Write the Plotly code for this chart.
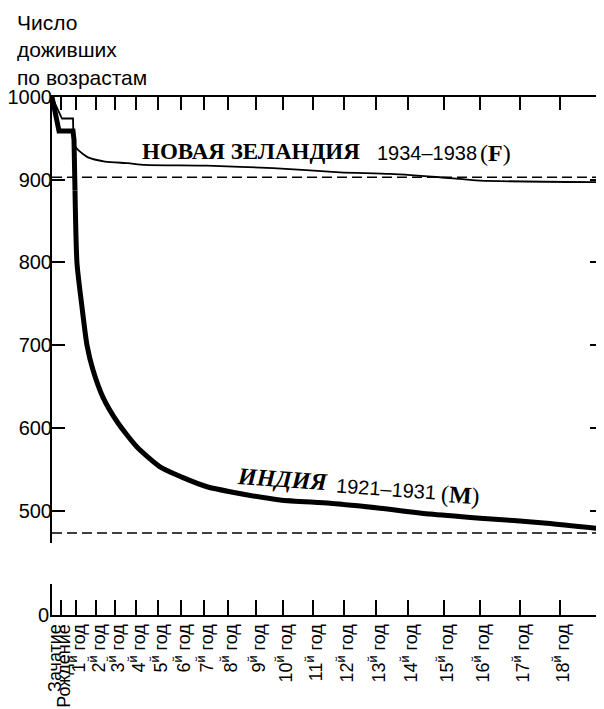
"""Survival curves: New Zealand 1934-1938 (F) vs India 1921-1931 (M)."""

import plotly.graph_objects as go

# horizontal scale of the original drawing (axis units, conception = 0)
tick_pos = [0, 9, 24, 44, 63, 84, 106, 129, 152, 176, 204, 231, 261, 292, 324, 356, 392, 428, 468, 508]
tick_labels = ["Зачатие", "Рождение"] + [f"{n}<sup>й</sup> год" for n in range(1, 19)]
X_MAX = 551

y_ticks = [500, 600, 700, 800, 900, 1000]

# Новая Зеландия 1934-1938 (F), thin line
nz_x = [0, 10, 21, 21.5, 22.5, 26, 36, 53, 76, 93, 155, 221, 288, 338, 388, 428, 551]
nz_y = [1000, 974, 974, 948, 942, 936, 927, 922, 920, 918, 917, 914, 909, 907, 903, 899, 897]

# Индия 1921-1931 (M), thick line
india_x = [0, 7, 21, 22, 23, 25, 30, 35, 41, 51, 66, 85, 108, 131, 155, 178, 228, 278, 328, 378, 428, 495, 551]
india_y = [1000, 959, 959, 948, 887, 799, 746, 700, 670, 637, 606, 577, 553, 540, 529, 523, 513, 509, 503, 496, 491, 485, 478]

# dashed asymptotes
nz_level = 903
india_level = 473

SANS = "Liberation Sans, Arial, sans-serif"
SERIF = "Liberation Serif, DejaVu Serif, serif"


def add_curve(x, y, width, split):
    # stepped start drawn straight, the smooth decline as a spline
    fig.add_trace(go.Scatter(x=x[:split + 1], y=y[:split + 1], mode="lines",
                             xaxis="x2", yaxis="y2", cliponaxis=False,
                             line=dict(color="black", width=width)))
    fig.add_trace(go.Scatter(x=x[split:], y=y[split:], mode="lines",
                             xaxis="x2", yaxis="y2", cliponaxis=False,
                             line=dict(color="black", width=width, shape="spline",
                                       smoothing=0.6)))


fig = go.Figure()
add_curve(nz_x, nz_y, 1.8, 3)
add_curve(india_x, india_y, 5, 4)
# keeps the lower (broken-axis) panel drawn
fig.add_trace(go.Scatter(x=[], y=[], xaxis="x", yaxis="y", hoverinfo="skip"))

for level in (nz_level, india_level):
    fig.add_shape(type="line", xref="x2 domain", yref="y2", x0=0, x1=1, y0=level, y1=level,
                  line=dict(color="black", width=1.5, dash="10px,5px"))

axis_common = dict(showgrid=False, zeroline=False, showline=True, linecolor="black",
                   linewidth=2, tickcolor="black", automargin=False)

fig.update_layout(
    width=596, height=701,
    margin=dict(l=44, r=1, t=89, b=94),
    paper_bgcolor="white", plot_bgcolor="white",
    showlegend=False,
    font=dict(family=SANS, color="black"),
    xaxis=dict(domain=[0, 1], anchor="y", range=[0, X_MAX], tickmode="array",
               tickvals=tick_pos, ticktext=tick_labels, tickangle=-90,
               ticks="inside", ticklen=15, tickwidth=1.5,
               tickfont=dict(size=18, family=SANS), ticklabelshift=3,
               ticklabelstandoff=0, **axis_common),
    yaxis=dict(domain=[0, 0.06], anchor="x", range=[0, 40], tickmode="array",
               tickvals=[0], ticktext=["0"], ticks="", mirror=True,
               tickfont=dict(size=20), ticklabelstandoff=-3, **axis_common),
    xaxis2=dict(domain=[0, 1], anchor="y2", range=[0, X_MAX], side="top",
                tickmode="array", tickvals=tick_pos, ticks="inside", ticklen=13,
                tickwidth=1.5, showticklabels=False, mirror=False, **axis_common),
    yaxis2=dict(domain=[0.139, 1], anchor="x2", range=[461, 1000], tickmode="array",
                tickvals=y_ticks, ticks="inside", ticklen=13, tickwidth=2,
                mirror="ticks", tickfont=dict(size=20), ticklabelstandoff=-6,
                **axis_common),
)

labels = [
    ("<b>НОВАЯ ЗЕЛАНДИЯ</b>", 88, 934, SERIF, 23, 0),
    ("1934–1938", 323, 932, SANS, 20, 0),
    ("(<b>F</b>)", 426, 932, SERIF, 24, 0),
    ("<b><i>ИНДИЯ</i></b>", 182, 538, SERIF, 24, 4),
    ("1921–1931", 281, 526, SANS, 20, 4),
    ("(<b>M</b>)", 386, 519, SERIF, 24, 4),
]
for text, x, y, family, size, angle in labels:
    fig.add_annotation(text=text, x=x, y=y, xref="x2", yref="y2", xanchor="left",
                       yanchor="middle", showarrow=False, textangle=angle,
                       font=dict(family=family, size=size, color="black"))

fig.add_annotation(text="Число<br>доживших<br>по возрастам", xref="paper", yref="paper",
                   x=-0.068, y=1.17, xanchor="left", yanchor="top", align="left",
                   showarrow=False, font=dict(family=SANS, size=21, color="black"))

fig.write_html("out.html")
